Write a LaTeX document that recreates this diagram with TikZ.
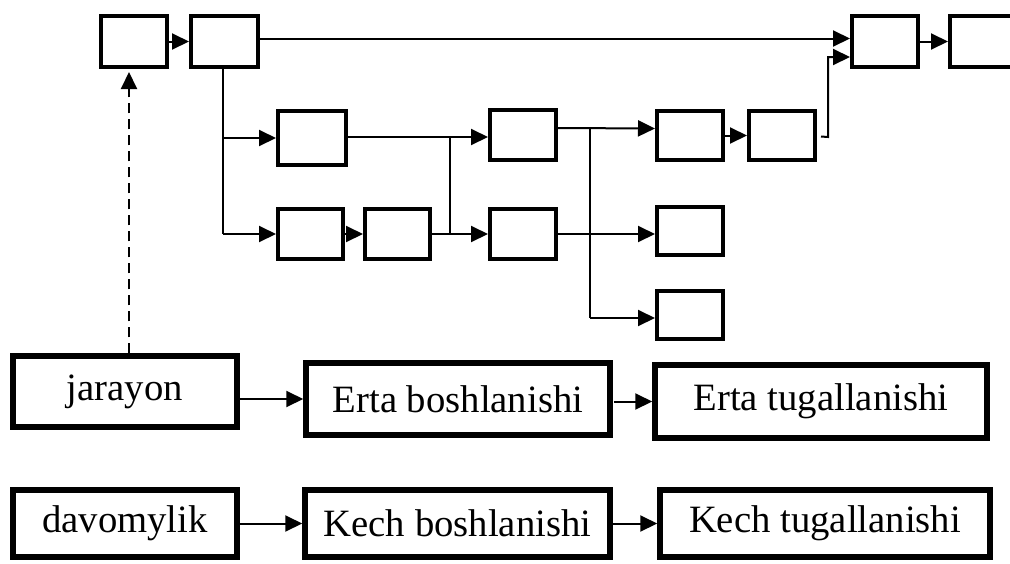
\documentclass[tikz,border=0pt]{standalone}
\usepackage{fontspec}
\setmainfont{Liberation Serif}
\usetikzlibrary{arrows.meta,calc}
\tikzset{
  sbox/.style={draw, line width=4pt, rectangle, inner sep=0pt, minimum width=66pt, minimum height=50pt},
  tbox/.style={draw, line width=5.5pt, rectangle, inner sep=0pt, font=\fontsize{38.7}{44}\selectfont},
  conn/.style={line width=2pt},
  arr/.style={line width=2pt, -{Triangle[length=17pt,width=16pt]}},
  darr/.style={line width=2pt, dash pattern=on 10pt off 6pt, -{Triangle[length=17pt,width=16pt]}}
}
\begin{document}
\begin{tikzpicture}[x=1pt,y=-1pt]
\useasboundingbox (0,0) rectangle (1010,563);
% top row
\node[sbox, minimum height=51pt] (B1) at (134,41.5) {};
\node[sbox, minimum width=67pt, minimum height=51pt] (B2) at (224.5,41.5) {};
\node[sbox, minimum height=51pt] (B3) at (885,41.5) {};
\node[sbox, minimum height=51pt] (B4) at (983,41.5) {};
% middle
\node[sbox, minimum width=68pt, minimum height=54pt] (B5) at (312,138) {};
\node[sbox] (B6) at (523,135) {};
\node[sbox, minimum height=49pt] (B7) at (690,135.5) {};
\node[sbox, minimum height=49pt] (B8) at (782,135.5) {};
\node[sbox, minimum width=65pt] (B9) at (310.5,234) {};
\node[sbox, minimum width=65pt] (B10) at (397.5,234) {};
\node[sbox] (B11) at (523,234) {};
\node[sbox, minimum height=48pt] (B12) at (690,231) {};
\node[sbox, minimum height=48pt] (B13) at (690,315) {};
% bottom
\node[tbox, minimum width=224pt, minimum height=71pt] (J) at (125,391.5) {jarayon};
\node[tbox, minimum width=304pt, minimum height=72pt] (EB) at (458,399) {Erta boshlanishi};
\node[tbox, minimum width=332pt, minimum height=73pt] (ET) at (821,401.5) {Erta tugallanishi};
\node[tbox, minimum width=224pt, minimum height=67pt] (D) at (125,523.5) {davomylik};
\node[tbox, minimum width=305pt, minimum height=67pt] (KB) at (457.5,523.5) {Kech boshlanishi};
\node[tbox, minimum width=330pt, minimum height=67pt] (KT) at (825,523.5) {Kech tugallanishi};
% coordinates
\coordinate (j1) at ($(B2.south |- B5.west)+(-2,0)$);
\coordinate (j2) at ($(B2.south |- B9.west)+(-2,0)$);
\coordinate (j0) at ($(B2.south)+(-2,0)$);
\coordinate (m1) at (450,137);
\coordinate (m2) at (450,235);
\coordinate (n1) at (590,128);
\coordinate (n2) at (590,318);
\coordinate (s1) at ($(B8.east)+(4,1)$);
\coordinate (s2) at (828,137);
% connectors top
\draw[arr] (B1) -- (B2);
\draw[arr] ([yshift=3pt]B2.east) -- ([yshift=3pt]B3.west);
\draw[arr] (B3) -- (B4);
\draw[conn] (j0) -- (j2);
\draw[arr] (j1) -- (j1 -| B5.west);
\draw[arr] (j2) -- (B9.west);
\draw[arr] (B9) -- (B10);
\draw[arr] (B5.east |- m1) -- (m1 -| B6.west);
\draw[conn] (m1) -- (m2);
\draw[arr] (B10.east) -- (B11.west);
\draw[arr] ([yshift=7pt]B6.east) -- ([yshift=7pt]B7.west);
\draw[conn] (n1) -- (n2);
\draw[arr] (n2) -- (n2 -| B13.west);
\draw[arr] (B11.east) -- (B11.east -| B12.west);
\draw[arr] (B7) -- (B8);
\draw[arr] (s1) -- (s2) |- ([yshift=-15.5pt]B3.west);
% bottom connectors
\draw[darr] ([xshift=4pt]J.north) -- ([xshift=4pt,yshift=-3pt]J.north |- B1.south);
\draw[arr] (EB.west -| J.east) -- (EB.west);
\draw[arr] ([xshift=1pt]EB.east |- ET.west) -- (ET.west);
\draw[arr] (D.east |- KB.west) -- (KB.west);
\draw[arr] (KB.east |- KT.west) -- (KT.west);
\end{tikzpicture}
\end{document}
